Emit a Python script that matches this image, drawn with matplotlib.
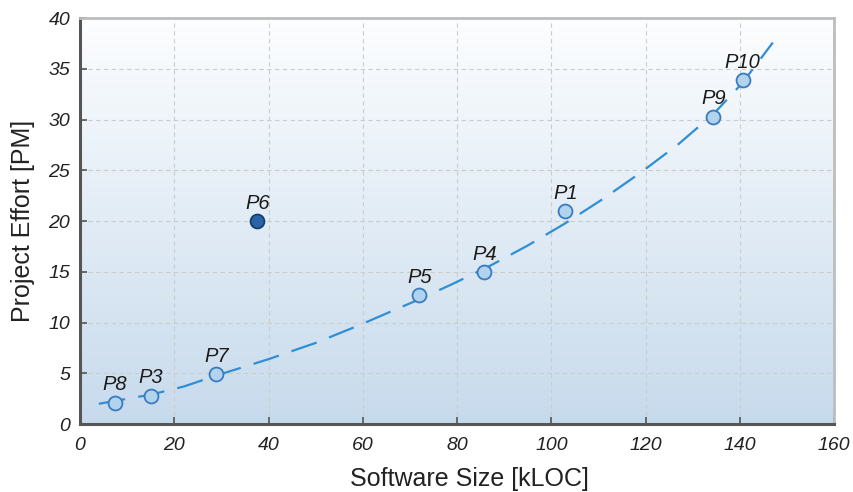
import numpy as np
import matplotlib.pyplot as plt

plt.rcParams['font.family'] = ['Liberation Sans', 'DejaVu Sans']

# project data points
names = ['P8', 'P3', 'P7', 'P6', 'P5', 'P4', 'P1', 'P9', 'P10']
size_kloc = [7.4, 15.1, 28.9, 37.6, 72.0, 85.8, 103.0, 134.4, 140.6]
effort_pm = [2.1, 2.8, 4.9, 20.0, 12.7, 15.0, 21.0, 30.3, 33.9]
outlier = 'P6'

# dashed trend curve
trend_x = [4, 10, 15, 22, 29, 40, 50, 59, 71, 79, 87, 95, 103, 111, 119, 127, 134.5, 140.5, 147]
trend_y = [2.0, 2.5, 2.9, 3.7, 4.8, 6.4, 8.0, 9.7, 12.1, 13.8, 15.6, 17.6, 19.8, 22.2,
           24.8, 27.6, 30.6, 33.6, 37.6]

fig = plt.figure(figsize=(8.54, 4.92), dpi=100)
ax = fig.add_axes([0.0937, 0.138, 0.883, 0.825])

# background gradient, white at top to pale blue at bottom
grad = np.linspace(0, 1, 256).reshape(-1, 1)
top = np.array([0.99, 0.995, 1.0])
bottom = np.array([0.78, 0.855, 0.925])
img = top * (1 - grad[..., None]) + bottom * grad[..., None]
ax.imshow(img, extent=[0, 1, 0, 1], transform=ax.transAxes, aspect='auto', zorder=0)

ax.set_xlim(0, 160)
ax.set_ylim(0, 40)
ax.set_xticks(range(0, 161, 20))
ax.set_yticks(range(0, 41, 5))
ax.grid(True, color='#cccccc', linestyle=(0, (4, 3)), linewidth=0.8, zorder=1)

ax.plot(trend_x, trend_y, color='#2f8ed4', lw=1.6, dashes=(12, 6), zorder=2)

for n, x, y in zip(names, size_kloc, effort_pm):
    if n == outlier:
        fc, ec = '#2a63a6', '#163f70'
    else:
        fc, ec = '#b2d3ee', '#3a7bbf'
    ax.scatter([x], [y], s=100, facecolor=fc, edgecolor=ec, linewidth=1.3, zorder=3)
    ax.annotate(n, (x, y), xytext=(0, 6), textcoords='offset points', ha='center',
                va='bottom', fontsize=14.5, style='italic', color='#1a1a1a', zorder=4)

for s in ['left', 'bottom']:
    ax.spines[s].set_color('#555555')
    ax.spines[s].set_linewidth(2.2)
for s in ['top', 'right']:
    ax.spines[s].set_color('#bdbdbd')
    ax.spines[s].set_linewidth(2)

ax.tick_params(direction='in', length=5, width=1.2, color='#555555',
               labelsize=14, labelcolor='#222222')
ax.tick_params(axis='x', pad=9)
ax.tick_params(axis='y', pad=7)
for lab in ax.get_xticklabels() + ax.get_yticklabels():
    lab.set_style('italic')

ax.set_xlabel('Software Size [kLOC]', fontsize=18, color='#222222', labelpad=10)
ax.xaxis.set_label_coords(0.517, -0.105)
ax.set_ylabel('Project Effort [PM]', fontsize=18, color='#222222', labelpad=10)

fig.savefig('out.png', dpi=100)
